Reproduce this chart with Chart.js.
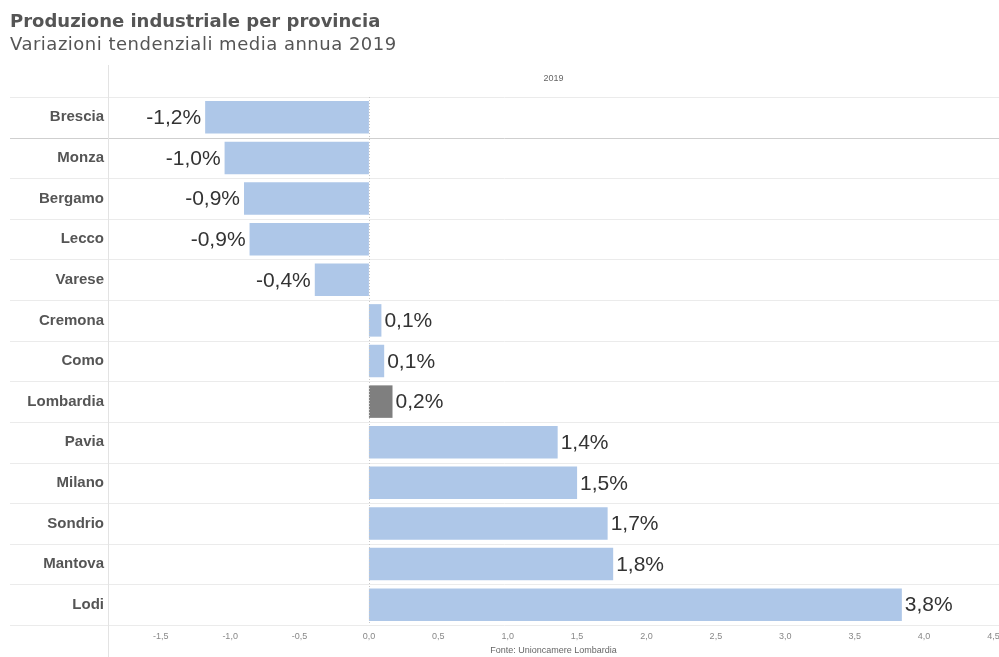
<!DOCTYPE html>
<html>
<head>
<meta charset="utf-8">
<script src="https://cdn.jsdelivr.net/npm/chart.js@4"></script>
<style>
  html,body{margin:0;padding:0;background:#fff;}
  #wrap{position:relative;width:999px;height:657px;}
  #chart{position:absolute;left:0;top:0;}
  .ttl{position:absolute;left:10px;font-family:"DejaVu Sans",sans-serif;color:#555;white-space:nowrap;}
  #t1{top:10px;font-size:18px;font-weight:bold;}
  #t2{top:33px;font-size:18px;letter-spacing:0.5px;}
</style>
</head>
<body>
<div id="wrap">
  <canvas id="chart" width="999" height="657"></canvas>
  <div class="ttl" id="t1">Produzione industriale per provincia</div>
  <div class="ttl" id="t2">Variazioni tendenziali media annua 2019</div>
</div>
<script>
/* ------------ data ------------ */
const PROVINCE = ['Brescia','Monza','Bergamo','Lecco','Varese','Cremona','Como','Lombardia','Pavia','Milano','Sondrio','Mantova','Lodi'];
const VARIAZ   = [-1.18,-1.04,-0.90,-0.86,-0.39,0.09,0.11,0.17,1.36,1.50,1.72,1.76,3.84];
const X_TICKS  = [-1.5,-1.0,-0.5,0,0.5,1.0,1.5,2.0,2.5,3.0,3.5,4.0,4.5];
const HEADER   = '2019';
const FONTE    = 'Fonte: Unioncamere Lombardia';

const BLUE='#aec7e8', GREY='#7f7f7f';
const ARIAL='"Liberation Sans", Arial, sans-serif';
const fmt = v => v.toFixed(1).replace('.',',');

/* ------------ decorations ------------ */
const deco = {
  id:'deco',
  beforeDatasetsDraw(chart){
    const {ctx,chartArea:a,scales:{x,y}} = chart;
    ctx.save();
    // row separators
    const half = (y.getPixelForValue(1)-y.getPixelForValue(0))/2;
    for(let i=0;i<=PROVINCE.length;i++){
      const yy = Math.round(y.getPixelForValue(i)-half)+0.5;
      ctx.strokeStyle = i===1 ? '#cfcfcf' : '#ebebeb';
      ctx.lineWidth = 1;
      ctx.beginPath();ctx.moveTo(10,yy);ctx.lineTo(a.right,yy);ctx.stroke();
    }
    // left divider
    ctx.strokeStyle='#e3e3e3';
    ctx.beginPath();ctx.moveTo(a.left+0.5,65);ctx.lineTo(a.left+0.5,657);ctx.stroke();
    // header + footer
    ctx.fillStyle='#666';ctx.font='9px '+ARIAL;
    ctx.textAlign='center';ctx.textBaseline='middle';
    ctx.fillText(HEADER,(a.left+a.right)/2,79);
    ctx.fillText(FONTE,(a.left+a.right)/2,651);
    ctx.restore();
  },
  afterDatasetsDraw(chart){
    const {ctx,chartArea:a,scales:{x,y}} = chart;
    ctx.save();
    // zero line
    const x0 = Math.round(x.getPixelForValue(0))+0.5;
    ctx.strokeStyle='#c8c8c8';ctx.setLineDash([1,2]);
    ctx.beginPath();ctx.moveTo(x0,a.top);ctx.lineTo(x0,a.bottom);ctx.stroke();
    ctx.setLineDash([]);
    // value labels
    ctx.fillStyle='#333';ctx.font='21px '+ARIAL;
    ctx.textBaseline='middle';
    chart.getDatasetMeta(0).data.forEach((bar,i)=>{
      const v=VARIAZ[i];
      ctx.textAlign = v<0 ? 'right' : 'left';
      ctx.fillText(fmt(v)+'%', v<0 ? bar.x-4 : bar.x+3, bar.y+1);
    });
    ctx.restore();
  }
};

/* ------------ chart ------------ */
new Chart(document.getElementById('chart'),{
  type:'bar',
  data:{labels:PROVINCE,datasets:[{
    data:VARIAZ,
    backgroundColor:PROVINCE.map(p=>p==='Lombardia'?GREY:BLUE),
    barPercentage:0.8,categoryPercentage:1.0
  }]},
  options:{
    indexAxis:'y',responsive:false,animation:false,
    layout:{padding:{top:97,left:0,right:0,bottom:0}},
    plugins:{legend:{display:false},tooltip:{enabled:false}},
    scales:{
      x:{min:-1.88,max:4.54,
         afterBuildTicks:s=>{s.ticks=X_TICKS.map(v=>({value:v}));},
         afterFit:s=>{s.height=32;s.paddingLeft=0;s.paddingRight=0;},
         grid:{display:false,drawTicks:false,tickLength:0},border:{display:false},
         ticks:{callback:v=>fmt(v),color:'#888',padding:6,maxRotation:0,
                font:{family:ARIAL,size:9}}},
      y:{afterFit:s=>{s.width=108;s.paddingTop=0;s.paddingBottom=0;},
         grid:{display:false,drawTicks:false,tickLength:0},border:{display:false},
         ticks:{color:'#555',padding:4,
                font:{family:ARIAL,size:15,weight:'bold'}}}
    }
  },
  plugins:[deco]
});
</script>
</body>
</html>
